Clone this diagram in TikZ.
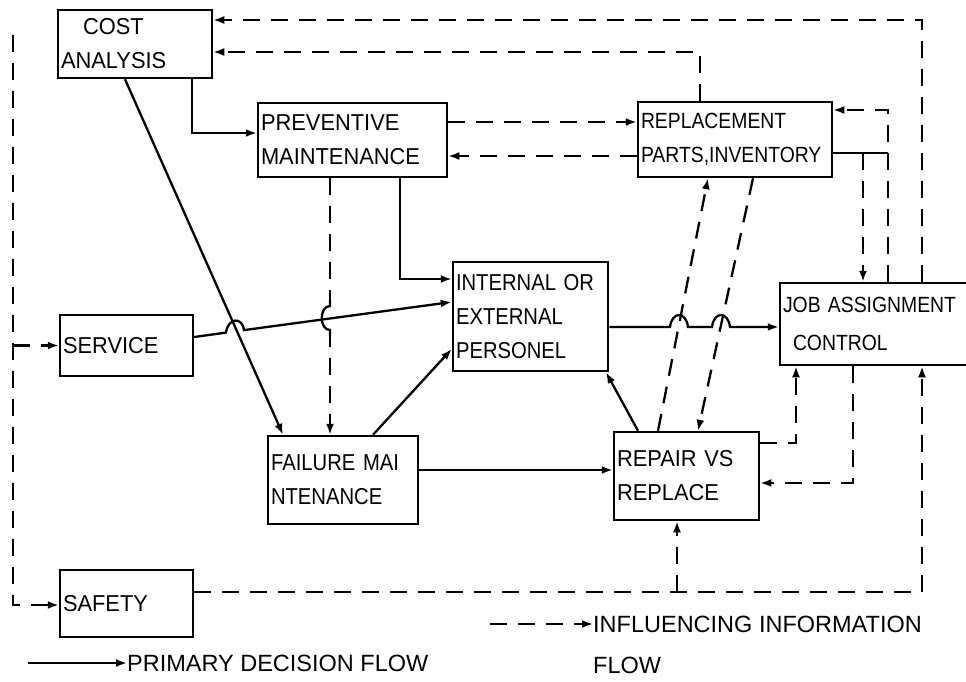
\documentclass[tikz,border=0pt]{standalone}
\usepackage{fontspec}
\usetikzlibrary{arrows.meta}
\newfontfamily\lab[FakeStretch=0.95]{Liberation Sans}
\newfontfamily\labn[FakeStretch=0.88]{Liberation Sans}
\newfontfamily\legf{Liberation Sans}
\begin{document}
\begin{tikzpicture}[x=1pt,y=-1pt,
  box/.style={draw, line width=2.5pt, rectangle, inner ysep=0pt, inner xsep=3pt, align=left,
    font=\lab\fontsize{23}{34}\selectfont},
  plain/.style={line width=2.3pt},
  flow/.style={line width=2.3pt, -{Latex[length=11pt,width=8pt]}},
  info/.style={flow, dash pattern=on 17pt off 11pt},
  leg/.style={inner sep=0pt, font=\legf\fontsize{23.5}{26}\selectfont}]
\useasboundingbox (0,0) rectangle (966,681);

% boxes
\node[box, text width=148pt, minimum height=68pt] (cost) at (135,44) {\hspace*{22pt}COST\\ANALYSIS};
\node[box, text width=183pt, minimum height=74pt] (prev) at (352.5,140) {PREVENTIVE\\MAINTENANCE};
\node[box, text width=188pt, minimum height=75pt, font=\labn\fontsize{22}{34}\selectfont] (repl) at (735,139.5) {REPLACEMENT\\PARTS,INVENTORY};
\node[box, text width=149pt, minimum height=109pt, font=\labn\fontsize{23}{34}\selectfont] (intl) at (530.5,316.5) {INTERNAL OR\\EXTERNAL\\PERSONEL};
\node[box, text width=194pt, minimum height=82pt, font=\labn\fontsize{22}{38}\selectfont] (jac) at (880,324) {JOB ASSIGNMENT\\\hspace*{10pt}CONTROL};
\node[box, text width=127pt, minimum height=61pt] (serv) at (126.5,345.5) {SERVICE};
\node[box, text width=144pt, minimum height=88pt, font=\labn\fontsize{23}{34}\selectfont] (fail) at (343,480) {FAILURE MAI\\NTENANCE};
\node[box, text width=139pt, minimum height=88pt] (rep) at (686.5,476) {REPAIR VS\\REPLACE};
\node[box, text width=127pt, minimum height=67pt] (saf) at (126.5,603.5) {SAFETY};

% legend
\coordinate (la) at (28,663);
\node[leg, anchor=west] (l1) at (127,663) {PRIMARY DECISION FLOW};
\draw[flow] (la) -- (l1.west);
\coordinate (lb) at (490,624);
\node[leg, anchor=west] (l2) at (593,624) {INFLUENCING INFORMATION};
\node[leg, anchor=west] (l3) at (593,665) {FLOW};
\draw[info] (lb) -- (l2.west);

% left dashed feed
\coordinate (ltop) at (13,35);
\draw[info] (ltop) -- (13,605) -- (saf.west |- 0,605);
\draw[info] (13,345.5) -- (serv.west);

% top loops to cost analysis
\draw[info] (922,0 |- jac.north) -- (922,20) -- (cost.east |- 0,20);
\draw[info] (700,0 |- repl.north) -- (700,52) -- (cost.east |- 0,52);

% cost analysis outputs
\draw[flow] (192,0 |- cost.south) -- (192,133) -- (prev.west |- 0,133);
\draw[flow] (125,0 |- cost.south) -- (283,0 |- fail.north);

% preventive <-> replacement
\draw[info] (prev.east |- 0,122) -- (repl.west |- 0,122);
\draw[info] (repl.west |- 0,156) -- (prev.east |- 0,156);

% preventive -> internal, preventive -> failure (hop over service line)
\draw[flow] (400,0 |- prev.south) -- (400,279) -- (intl.west |- 0,279);
\coordinate (h1) at (330,306);
\coordinate (h2) at (330,330);
\draw[plain, dash pattern=on 17pt off 11pt] (330,0 |- prev.south) -- (h1);
\draw[plain] (330,300) -- (h1) .. controls (319,306) and (319,330) .. (h2) -- (330,336);
\draw[info] (h2) -- (330,0 |- fail.north);

% service -> internal (hop over diagonal)
\draw[flow] (serv.east |- 0,337) -- (226,332.6) .. controls (228,318) and (242,316) .. (244,330.1) -- (intl.west |- 0,302);

% failure -> internal, failure -> repair
\draw[flow] (373,0 |- fail.north) -- (intl.west |- 0,349);
\draw[flow] (fail.east |- 0,470) -- (rep.west |- 0,470);

% repair -> internal
\draw[flow] (638,0 |- rep.north) -- (606,0 |- intl.south);

% repair <-> replacement parts
\draw[info] (658,0 |- rep.north) -- (708,0 |- repl.south);
\draw[info] (753,0 |- repl.south) -- (698,0 |- rep.north);

% internal -> job assignment (hops)
\draw[flow] (intl.east |- 0,327) -- (670,327) .. controls (672,311) and (686,311) .. (688,327) -- (712,327) .. controls (714,311) and (728,311) .. (730,327) -- (jac.west |- 0,327);

% replacement parts <-> job assignment
\coordinate (ja) at (863,153);
\coordinate (jb) at (888,153);
\draw[plain] (repl.east |- ja) -- (jb);
\draw[info] (ja) -- (863,0 |- jac.north);
\draw[info] (888,0 |- jac.north) -- (jb) -- (888,110) -- (repl.east |- 0,110);

% repair <-> job assignment
\draw[info] (rep.east |- 0,443) -- (796,443) -- (796,0 |- jac.south);
\draw[info] (853,0 |- jac.south) -- (853,483) -- (rep.east |- 0,483);

% safety -> job assignment, -> repair
\coordinate (sj) at (677,592);
\draw[info] (saf.east |- 0,592) -- (922,592) -- (922,0 |- jac.south);
\draw[info] (sj) -- (677,0 |- rep.south);
\end{tikzpicture}
\end{document}
